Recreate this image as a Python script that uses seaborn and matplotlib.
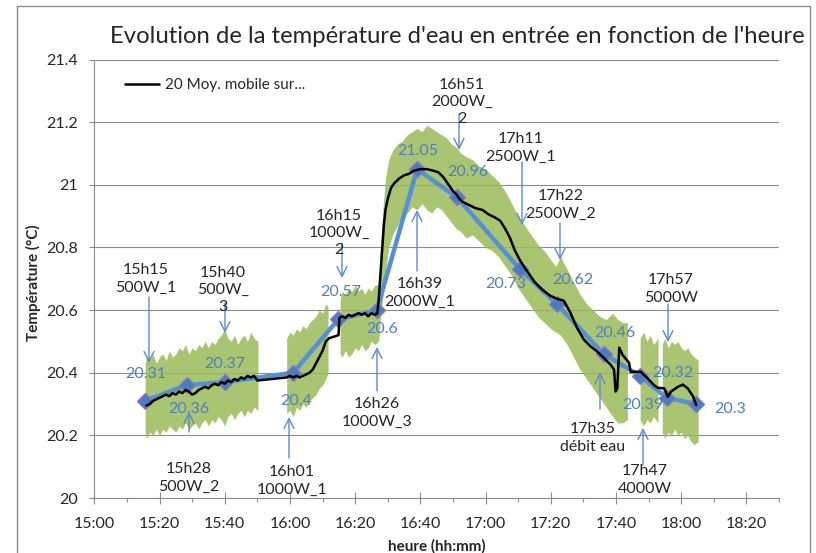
import numpy as np
import matplotlib
matplotlib.use("Agg")
import matplotlib.pyplot as plt
import seaborn as sns
from matplotlib.patches import Rectangle
from matplotlib.ticker import MultipleLocator, FuncFormatter

# ---------------- DATA (time in minutes after 15:00) ----------------
# Points "moyenne" (blue line with diamonds)
blue_t = [15.5, 28.3, 40.0, 61.0, 74.8, 86.7, 99.0, 111.2, 130.6, 141.8, 156.2, 167.4, 175.5, 184.6]
blue_v = [20.31, 20.36, 20.37, 20.40, 20.57, 20.60, 21.05, 20.96, 20.73, 20.62, 20.46, 20.39, 20.32, 20.30]

# Event labels (one per blue point except the last)
event_labels = ["15h15\n500W_1", "15h28\n500W_2", "15h40\n500W_\n3", "16h01\n1000W_1",
                "16h15\n1000W_\n2", "16h26\n1000W_3", "16h39\n2000W_1", "16h51\n2000W_\n2",
                "17h11\n2500W_1", "17h22\n2500W_2", "17h35\ndébit eau", "17h47\n4000W",
                "17h57\n5000W"]

# 20-point moving average (black)
ma_t = [16, 17, 18, 19, 20, 21, 22, 23, 24, 25, 26, 27, 28, 29, 30, 31, 32, 33, 34, 35,
        36, 37, 38, 39, 40, 41, 42, 43, 44, 45, 46, 47, 48, 49, 50,
        59, 60, 61, 62, 63, 64, 65, 66, 67, 68, 69, 70, 71, 72,
        74.9, 75.2, 76, 77, 78, 79, 80, 81, 82, 83, 84, 85, 86, 86.8,
        87.2, 87.8, 88.3, 88.8, 89.3, 90, 91, 92, 93.5, 95, 96.5, 98, 100, 102, 104, 105.5,
        107, 108, 109, 110, 111, 112, 113, 115, 117, 119, 121, 123, 124.5, 126, 127.5, 129,
        130.5, 132, 133.7, 135, 136.7, 138, 139.8, 141.9, 144, 146, 148, 150.2, 152.2, 154.2,
        156.3, 158.4, 159.4, 159.9, 160.4, 161, 162, 164, 164.5, 167.6, 169.7, 171.7, 172.8,
        174.8, 175.9, 176.9, 179, 180.5, 182, 183.6, 184.6]
ma_v = [20.295, 20.30, 20.31, 20.315, 20.32, 20.325, 20.33, 20.325, 20.335, 20.33, 20.34,
        20.335, 20.345, 20.34, 20.33, 20.335, 20.345, 20.35, 20.355, 20.35, 20.36, 20.365,
        20.36, 20.37, 20.365, 20.375, 20.37, 20.38, 20.375, 20.385, 20.38, 20.39, 20.385,
        20.39, 20.375,
        20.385, 20.39, 20.385, 20.39, 20.385, 20.39, 20.395, 20.40, 20.41, 20.43, 20.45,
        20.47, 20.50, 20.51,
        20.52, 20.575, 20.58, 20.575, 20.585, 20.58, 20.585, 20.59, 20.585, 20.59, 20.58,
        20.59, 20.585, 20.59,
        20.63, 20.72, 20.80, 20.87, 20.92, 20.955, 20.99, 21.005, 21.02, 21.03, 21.035,
        21.045, 21.05, 21.05, 21.045, 21.04,
        21.025, 21.01, 20.995, 20.98, 20.97, 20.955, 20.945, 20.935, 20.925, 20.92, 20.905,
        20.895, 20.885, 20.86, 20.83, 20.79,
        20.76, 20.735, 20.71, 20.69, 20.672, 20.66, 20.646, 20.636, 20.63, 20.592, 20.544,
        20.505, 20.484, 20.468,
        20.447, 20.425, 20.41, 20.34, 20.35, 20.48, 20.457, 20.432, 20.403, 20.403, 20.382,
        20.36, 20.352,
        20.35, 20.323, 20.34, 20.355, 20.362, 20.35, 20.325, 20.297]

# Raw measurements (green), as envelope (min / max) per recorded segment
g1_t = [15.6, 16, 17, 18, 19, 20, 21, 22, 23, 24, 25, 26, 27, 28, 29, 30, 31, 32, 33, 34,
        35, 36, 37, 38, 39, 40, 41, 42, 43, 44, 45, 46, 47, 48, 49, 50.2]
g1_hi = [20.43, 20.45, 20.44, 20.46, 20.43, 20.45, 20.46, 20.44, 20.47, 20.45, 20.46, 20.48,
         20.47, 20.49, 20.46, 20.48, 20.47, 20.49, 20.48, 20.50, 20.48, 20.50, 20.49, 20.51,
         20.52, 20.54, 20.51, 20.50, 20.52, 20.49, 20.51, 20.52, 20.50, 20.53, 20.51, 20.50]
g1_lo = [20.21, 20.19, 20.21, 20.20, 20.22, 20.20, 20.22, 20.21, 20.23, 20.22, 20.21, 20.23,
         20.22, 20.24, 20.22, 20.23, 20.24, 20.22, 20.24, 20.25, 20.23, 20.25, 20.24, 20.26,
         20.25, 20.23, 20.26, 20.27, 20.25, 20.27, 20.28, 20.26, 20.28, 20.27, 20.29, 20.28]

g2_t = [59, 60, 61, 62, 63, 64, 65, 66, 67, 68, 69, 70, 71, 71.7]
g2_hi = [20.51, 20.53, 20.52, 20.54, 20.53, 20.55, 20.54, 20.56, 20.57, 20.58, 20.60, 20.59,
         20.62, 20.61]
g2_lo = [20.27, 20.28, 20.26, 20.29, 20.28, 20.30, 20.29, 20.31, 20.32, 20.33, 20.35, 20.36,
         20.38, 20.40]

g3_t = [75.4, 76, 77, 78, 79, 80, 81, 82, 83, 84, 85, 86, 87.2, 87.8, 88.5, 89.3, 90.3, 91.5,
        93, 94.5, 96, 97.5, 99, 100.5, 102, 103.5, 105, 106.5, 108, 109.5, 111, 112.5, 114,
        116, 118, 120, 122, 124, 126, 128, 130, 132, 134, 136, 138, 140, 141.5, 143, 145,
        147, 149, 151, 153, 155, 157, 159, 160.5, 162, 163.5]
g3_hi = [20.64, 20.66, 20.65, 20.67, 20.66, 20.68, 20.66, 20.67, 20.65, 20.67, 20.66, 20.68,
         20.68, 20.80, 20.92, 21.02, 21.08, 21.11, 21.13, 21.14, 21.16, 21.17, 21.18, 21.17,
         21.19, 21.18, 21.17, 21.16, 21.15, 21.13, 21.12, 21.10, 21.09, 21.08, 21.06, 21.05,
         21.03, 21.01, 20.98, 20.94, 20.90, 20.87, 20.84, 20.81, 20.79, 20.76, 20.74, 20.77,
         20.73, 20.69, 20.65, 20.62, 20.60, 20.58, 20.57, 20.59, 20.57, 20.56, 20.56]
g3_lo = [20.46, 20.45, 20.47, 20.45, 20.46, 20.48, 20.47, 20.49, 20.47, 20.48, 20.50, 20.49,
         20.50, 20.58, 20.64, 20.72, 20.80, 20.84, 20.87, 20.90, 20.91, 20.93, 20.92, 20.94,
         20.92, 20.91, 20.93, 20.92, 20.90, 20.88, 20.86, 20.85, 20.83, 20.84, 20.82, 20.80,
         20.79, 20.77, 20.74, 20.71, 20.67, 20.64, 20.61, 20.58, 20.56, 20.54, 20.53, 20.52,
         20.49, 20.45, 20.41, 20.38, 20.35, 20.32, 20.29, 20.26, 20.24, 20.24, 20.25]

g4_t = [167.4, 168.5, 169.5, 170.5, 171.5, 172.9]
g4_hi = [20.51, 20.53, 20.50, 20.52, 20.49, 20.51]
g4_lo = [20.25, 20.23, 20.25, 20.24, 20.26, 20.24]

g5_t = [174.2, 175, 176, 177, 178, 179, 180, 181, 182, 183, 184, 185.2]
g5_hi = [20.49, 20.51, 20.48, 20.50, 20.49, 20.50, 20.48, 20.47, 20.48, 20.46, 20.45, 20.44]
g5_lo = [20.21, 20.19, 20.21, 20.20, 20.22, 20.20, 20.21, 20.19, 20.20, 20.18, 20.17, 20.18]

x_tick_minutes = list(range(0, 211, 20))
y_ticks = [20.0, 20.2, 20.4, 20.6, 20.8, 21.0, 21.2, 21.4]

# ---------------- STYLE ----------------
sns.set_theme(style="white")
plt.rcParams["font.family"] = ["Lato", "DejaVu Sans"]

GREEN = "#9BBB59"
BLUE_LINE = "#5590D5"
BLUE_MK = "#4A7DC0"
BLUE_EDGE = "#8A78B8"
BLUE_TXT = "#4F7FBF"
ARROW = "#5B8CCB"
GRID = "#8C8C8C"
TXT = "#262626"

W, H = 816, 553
AX_L, AX_R, AX_T, AX_B = 94.3, 779.0, 59.5, 498.0
fig = plt.figure(figsize=(W / 100, H / 100), dpi=100)
fig.patch.set_facecolor("white")
ax = fig.add_axes([AX_L / W, 1 - AX_B / H, (AX_R - AX_L) / W, (AX_B - AX_T) / H])
ax.set_facecolor("white")


def px_t(x):
    return (x - AX_L) / (AX_R - AX_L) * 210.0


def px_v(y):
    return 21.4 - (y - AX_T) / (AX_B - AX_T) * 1.4


# raw (green)
for t, hi, lo in [(g1_t, g1_hi, g1_lo), (g2_t, g2_hi, g2_lo), (g3_t, g3_hi, g3_lo),
                  (g4_t, g4_hi, g4_lo), (g5_t, g5_hi, g5_lo)]:
    ax.fill_between(t, lo, hi, color=GREEN, alpha=0.85, lw=0, zorder=2)

# blue averaged points
sns.lineplot(x=blue_t, y=blue_v, ax=ax, color=BLUE_LINE, lw=3.2, marker="D",
             markersize=8.5, markerfacecolor=BLUE_MK, markeredgecolor=BLUE_EDGE,
             markeredgewidth=1.0, sort=False, legend=False, zorder=3)

# black moving average
sns.lineplot(x=ma_t, y=ma_v, ax=ax, color="black", lw=1.8, sort=False,
             label="20 Moy. mobile sur...", zorder=4)

ax.set_xlim(0, 210)
ax.set_ylim(20, 21.4)
ax.set_xlabel("")
ax.set_ylabel("")

# ticks
ax.xaxis.set_major_locator(MultipleLocator(20))
ax.xaxis.set_minor_locator(MultipleLocator(10))
ax.xaxis.set_major_formatter(FuncFormatter(lambda m, p: f"{15 + int(round(m)) // 60}:{int(round(m)) % 60:02d}"))
ax.set_yticks(y_ticks)
ax.yaxis.set_major_formatter(FuncFormatter(lambda v, p: f"{v:g}"))
ax.tick_params(axis="x", which="major", direction="inout", length=8, width=0.8,
               color=GRID, labelsize=11.5, labelcolor=TXT, pad=9.5)
ax.tick_params(axis="x", which="minor", direction="out", length=3.2, width=0.8, color=GRID)
ax.tick_params(axis="y", which="major", direction="out", length=3.6, width=0.8,
               color=GRID, labelsize=11.5, labelcolor=TXT, pad=8)
ax.tick_params(bottom=True, left=True, which="both")
ax.tick_params(axis="y", which="minor", left=False)

ax.grid(axis="y", color=GRID, lw=0.8)
ax.grid(axis="x", visible=False)
ax.set_axisbelow(True)
for s in ["top", "right"]:
    ax.spines[s].set_visible(False)
for s in ["left", "bottom"]:
    ax.spines[s].set_color(GRID)
    ax.spines[s].set_linewidth(0.8)

# legend
leg = ax.legend(loc="center left",
                bbox_to_anchor=((125 - AX_L) / (AX_R - AX_L), (AX_B - 85) / (AX_B - AX_T)),
                frameon=False, fontsize=11, handlelength=2.2, handletextpad=0.4,
                borderpad=0, borderaxespad=0)
for txt in leg.get_texts():
    txt.set_color(TXT)

# data labels
label_px = [(146, 374), (189, 409), (225, 364), (296, 401), (341, 292), (382, 329),
            (418, 151), (468, 172), (506, 284), (573, 280), (615, 333), (643, 405),
            (673, 373), (730, 409)]
for v, (px, py) in zip(blue_v, label_px):
    ax.text(px_t(px), px_v(py), f"{v:g}", color=BLUE_TXT, fontsize=11.5,
            ha="center", va="center", zorder=5)

# event annotations: text centre (x, y), arrow x, arrow tail y, arrow tip y (reference pixels)
event_layout = [(146, 279, 149, 297, 363), (189, 478, 189, 432, 412), (223, 290, 225, 303, 333),
                (292, 481, 289, 458, 417), (339, 233, 342, 243, 278), (377, 413, 377, 391, 347),
                (420, 293, 417, 271, 210), (462, 102, 459, 114, 150), (521, 148, 522, 162, 225),
                (561, 205, 560, 223, 260), (593, 438, 600, 409, 372), (645, 480, 643, 465, 428),
                (671, 289, 668, 304, 342)]
for lab, (cx, cy, axp, ty, hy) in zip(event_labels, event_layout):
    ax.annotate("", xy=(px_t(axp), px_v(hy)), xytext=(px_t(axp), px_v(ty)),
                arrowprops=dict(arrowstyle="->,head_length=0.6,head_width=0.3",
                                color=ARROW, lw=1.0, shrinkA=0, shrinkB=0),
                zorder=5, annotation_clip=False)
    ax.text(px_t(cx), px_v(cy), lab, ha="center", va="center", fontsize=11.5,
            color=TXT, linespacing=1.3, zorder=6, clip_on=False)

# title and axis labels
fig.text(457 / W, 1 - 43 / H, "Evolution de la température d'eau en entrée en fonction de l'heure",
         ha="center", va="baseline", fontsize=17.2, color=TXT)
fig.text(33 / W, 1 - 283 / H, "Température (°C)", rotation=90, ha="center", va="center",
         fontsize=11, fontweight="bold", color=TXT)
fig.text(437 / W, 1 - 546 / H, "heure (hh:mm)", ha="center", va="center",
         fontsize=11, fontweight="bold", color=TXT)

# outer chart frame
fig.patches.append(Rectangle((17 / W, -0.1), (810 - 17) / W, 1.1 - 6 / H,
                             transform=fig.transFigure, fill=False,
                             edgecolor="#8C8C8C", lw=1.0))

fig.savefig("out.png", dpi=100)
